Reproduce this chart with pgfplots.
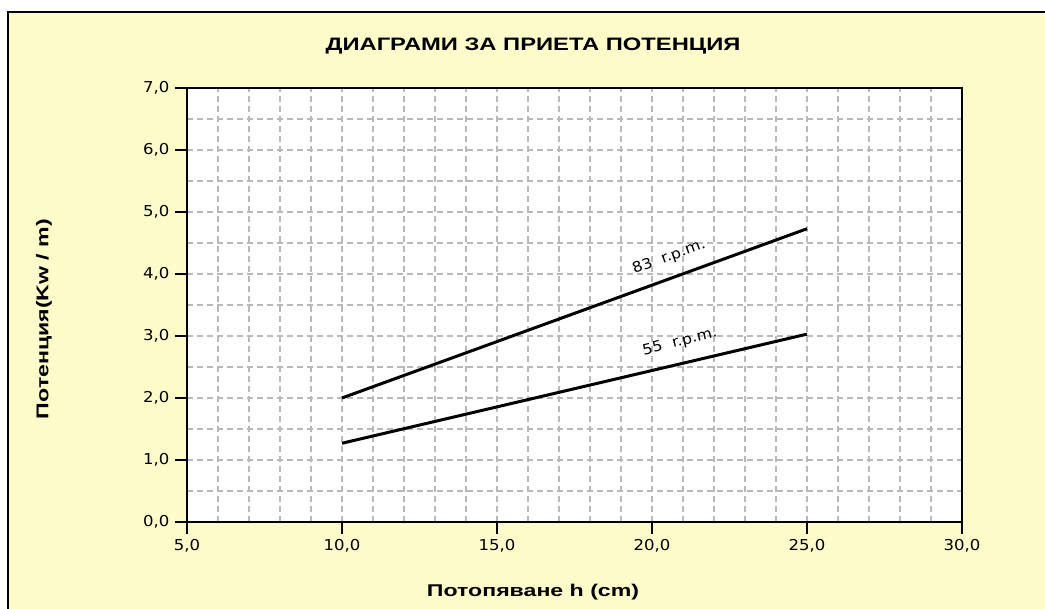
\documentclass[border=0pt]{standalone}
\usepackage{pgfplots}
\pgfplotsset{compat=1.18}
\usepackage{fontspec}
\setmainfont{Liberation Sans}
\newfontfamily\titlefont[FakeStretch=1.32]{Liberation Sans}
\newfontfamily\labelfont[FakeStretch=1.36]{Liberation Sans}
\newfontfamily\dejavu[FakeStretch=1.1]{DejaVu Sans}
\definecolor{bgyellow}{RGB}{252,251,201}
\definecolor{gridgray}{RGB}{185,185,185}
\begin{document}
\begin{tikzpicture}[x=1pt,y=1pt]
\useasboundingbox (0,0) rectangle (1045,609);
\begin{scope}
\clip (0,0) rectangle (1045,609);
\fill[white] (0,0) rectangle (1045,609);
\filldraw[fill=bgyellow, draw=black, line width=1.5pt] (8,-20) rectangle (1070,597);
\end{scope}
\begin{axis}[
  at={(187pt,87pt)}, anchor=south west,
  width=775pt, height=434pt, scale only axis,
  xmin=5, xmax=30, ymin=0, ymax=7,
  xtick={5,10,...,30}, ytick={0,1,...,7},
  minor x tick num=4, minor y tick num=1,
  grid=both,
  major grid style={gridgray, line width=1.3pt, dash pattern=on 6pt off 4pt},
  minor grid style={gridgray, line width=1.3pt, dash pattern=on 6pt off 4pt},
  tick align=outside,
  major tick length=12pt, minor tick length=0pt,
  tick style={black, line width=1.6pt},
  axis line style={black, line width=1.6pt},
  axis background/.style={fill=white},
  xtick pos=bottom, ytick pos=left,
  /pgf/number format/.cd, fixed, fixed zerofill, precision=1, use comma, assume math mode=true,
  /pgfplots/.cd,
  ticklabel style={font=\dejavu\fontsize{15}{15}\selectfont, text=black},
  yticklabel style={xshift=-2pt},
  xticklabel style={yshift=-2pt},
  title={ДИАГРАМИ ЗА ПРИЕТА ПОТЕНЦИЯ},
  title style={at={(axis description cs:0.4465,1)}, anchor=base, yshift=31pt,
    font=\titlefont\bfseries\fontsize{18}{18}\selectfont},
  xlabel={Потопяване h (cm)},
  xlabel style={at={(axis description cs:0.4465,0)}, anchor=base, yshift=-75pt,
    font=\labelfont\bfseries\fontsize{17}{17}\selectfont},
  ylabel={Потенция(Kw / m)},
  ylabel style={at={(axis description cs:-0.1845,0.4677)}, anchor=center,
    font=\labelfont\bfseries\fontsize{17}{17}\selectfont},
]
\addplot[black, line width=3pt, line cap=butt] coordinates {(10,2.0) (25,4.73)};
\addplot[black, line width=3pt, line cap=butt] coordinates {(10,1.27) (25,3.03)};
\node[rotate=20, font=\dejavu\fontsize{14.5}{14.5}\selectfont] at (axis cs:20.55,4.27) {83\ \ r.p.m.};
\node[rotate=14, font=\dejavu\fontsize{14.5}{14.5}\selectfont] at (axis cs:20.9,2.9) {55\ \ r.p.m.};
\end{axis}
\end{tikzpicture}
\end{document}
